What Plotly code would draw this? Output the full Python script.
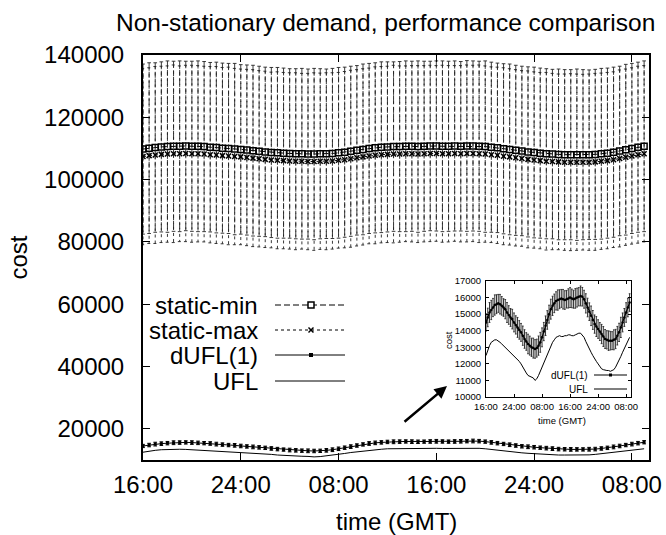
import plotly.graph_objects as go

# ---------------- data ----------------
hours = [i * 0.5 for i in range(83)]          # hours after 16:00 GMT
tick_hours = [0, 8, 16, 24, 32, 40]
tick_labels = ["16:00", "24:00", "08:00", "16:00", "24:00", "08:00"]
cost_ticks = [20000, 40000, 60000, 80000, 100000, 120000, 140000]
inset_ticks = [10000, 11000, 12000, 13000, 14000, 15000, 16000, 17000]

static_min = [109800, 110100, 110300, 110500, 110600, 110700, 110700, 110800, 110700, 110700,
              110600, 110400, 110300, 110100, 110000, 109800, 109700, 109500, 109300, 109100,
              108900, 108700, 108600, 108500, 108400, 108300, 108300, 108200, 108200, 108300,
              108300, 108400, 108600, 108800, 109100, 109400, 109700, 110000, 110200, 110400,
              110500, 110600, 110600, 110700, 110700, 110600, 110700, 110800, 110800, 110700,
              110700, 110800, 110700, 110800, 110800, 110700, 110600, 110400, 110200, 109900,
              109700, 109400, 109200, 108900, 108700, 108500, 108300, 108200, 108100, 108000,
              108000, 108000, 108000, 108000, 108100, 108300, 108500, 108800, 109200, 109600,
              110000, 110400, 110700]
static_min_err = [27300, 27400, 27200, 27300, 27500, 27300, 27400, 27200, 27300, 27400,
                  27300, 27200, 27400, 27300, 27300, 27500, 27200, 27300, 27400, 27300,
                  27200, 27300, 27400, 27300, 27200, 27300, 27400, 27300, 27500, 27300,
                  27200, 27300, 27400, 27300, 27300, 27200, 27400, 27300, 27300, 27400,
                  27300, 27200, 27300, 27400, 27300, 27500, 27300, 27200, 27300, 27400,
                  27300, 27300, 27200, 27400, 27300, 27300, 27500, 27300, 27200, 27300,
                  27400, 27300, 27200, 27300, 27400, 27300, 27300, 27200, 27400, 27300,
                  27300, 27500, 27300, 27200, 27300, 27400, 27300, 27300, 27200, 27400,
                  27300, 27300, 27400]
static_max = [107400, 107700, 107900, 108100, 108200, 108300, 108300, 108400, 108300, 108300,
              108200, 108000, 107900, 107700, 107600, 107400, 107300, 107100, 106900, 106700,
              106500, 106300, 106200, 106100, 106000, 105900, 105900, 105800, 105800, 105900,
              105900, 106000, 106200, 106400, 106700, 107000, 107300, 107600, 107800, 108000,
              108100, 108200, 108200, 108300, 108300, 108200, 108300, 108400, 108400, 108300,
              108300, 108400, 108300, 108400, 108400, 108300, 108200, 108000, 107800, 107500,
              107300, 107000, 106800, 106500, 106300, 106100, 105900, 105800, 105700, 105600,
              105600, 105600, 105600, 105600, 105700, 105900, 106100, 106400, 106800, 107200,
              107600, 108000, 108300]
static_max_err = [28300, 28200, 28400, 28300, 28300, 28500, 28200, 28300, 28400, 28300,
                  28200, 28300, 28400, 28300, 28500, 28300, 28200, 28300, 28400, 28300,
                  28300, 28200, 28400, 28300, 28300, 28400, 28200, 28300, 28500, 28300,
                  28400, 28300, 28200, 28300, 28400, 28300, 28300, 28200, 28400, 28300,
                  28300, 28500, 28300, 28200, 28300, 28400, 28300, 28300, 28200, 28400,
                  28300, 28200, 28300, 28400, 28300, 28500, 28300, 28200, 28300, 28400,
                  28300, 28300, 28200, 28400, 28300, 28300, 28500, 28300, 28200, 28300,
                  28400, 28300, 28200, 28300, 28400, 28300, 28300, 28200, 28400, 28300,
                  28300, 28400, 28300]
dufl = [14500, 14800, 15100, 15250, 15400, 15550, 15600, 15650, 15600, 15500,
        15400, 15300, 15100, 14950, 14800, 14700, 14500, 14350, 14200, 14050,
        13900, 13700, 13500, 13350, 13200, 13100, 13000, 12950, 12900, 12950,
        13100, 13300, 13600, 13950, 14300, 14650, 15000, 15300, 15500, 15650,
        15800, 15850, 15900, 15950, 15900, 15850, 15900, 15950, 16000, 15950,
        15900, 15950, 16000, 16050, 16100, 16050, 15900, 15650, 15400, 15150,
        14900, 14650, 14400, 14250, 14100, 13950, 13800, 13650, 13500, 13450,
        13400, 13400, 13400, 13450, 13500, 13700, 13900, 14200, 14500, 14800,
        15100, 15400, 15700]
dufl_err = [520, 560, 600, 580, 550, 610, 570, 540, 590, 560,
            530, 580, 600, 560, 540, 590, 570, 550, 600, 560,
            540, 580, 560, 530, 590, 570, 550, 600, 560, 540,
            580, 600, 570, 550, 590, 560, 540, 600, 580, 560,
            550, 610, 570, 540, 590, 560, 530, 580, 600, 560,
            540, 590, 570, 550, 600, 560, 540, 580, 560, 530,
            590, 570, 550, 600, 560, 540, 580, 600, 570, 550,
            590, 560, 540, 600, 580, 560, 550, 610, 570, 540,
            590, 560, 530]
ufl = [12500, 12850, 13100, 13300, 13400, 13450, 13450, 13400, 13300, 13200,
       13100, 13000, 12900, 12800, 12700, 12600, 12500, 12400, 12300, 12150,
       12000, 11800, 11600, 11450, 11300, 11250, 11200, 11150, 11000, 11100,
       11300, 11550, 11800, 12100, 12400, 12650, 12900, 13100, 13300, 13450,
       13600, 13650, 13700, 13650, 13650, 13700, 13700, 13750, 13750, 13700,
       13700, 13750, 13800, 13850, 13850, 13750, 13600, 13350, 13100, 12900,
       12700, 12500, 12300, 12150, 12000, 11850, 11700, 11650, 11600, 11600,
       11600, 11550, 11600, 11650, 11800, 12000, 12200, 12450, 12700, 12950,
       13200, 13400, 13600]

# ---------------- helpers ----------------
FONT = "Liberation Sans, Arial, Helvetica, sans-serif"
W, H = 666, 535
L, R, T, B = 143, 649, 55, 460


def px(x):
    return (x - L) / (R - L)


def py(y):
    return (B - y) / (B - T)


def errbar_path(xs, ys, errs, cap):
    ex, ey = [], []
    for x, y, e in zip(xs, ys, errs):
        top, bot = y + e, y - e
        ex += [x - cap, x + cap, None, x, x, None, x - cap, x + cap, None]
        ey += [top, top, None, top, bot, None, bot, bot, None]
    return ex, ey


fig = go.Figure()

# main plot: static-min
ex, ey = errbar_path(hours, static_min, static_min_err, 0.15)
fig.add_trace(go.Scatter(x=ex, y=ey, mode="lines", line=dict(color="#222", width=0.9, dash="6px,3px"),
                         showlegend=False, hoverinfo="skip"))
fig.add_trace(go.Scatter(x=hours, y=static_min, mode="lines+markers", name="static-min",
                         line=dict(color="black", width=1, dash="6px,3px"),
                         marker=dict(symbol="square-open", size=6, color="black", line=dict(width=1.5)),
                         showlegend=False))
# static-max
ex, ey = errbar_path(hours, static_max, static_max_err, 0.15)
fig.add_trace(go.Scatter(x=ex, y=ey, mode="lines", line=dict(color="#222", width=0.9, dash="3px,3px"),
                         showlegend=False, hoverinfo="skip"))
fig.add_trace(go.Scatter(x=hours, y=static_max, mode="lines+markers", name="static-max",
                         line=dict(color="black", width=1, dash="3px,3px"),
                         marker=dict(symbol="x-thin", size=5, color="black", line=dict(width=1.5, color="black")),
                         showlegend=False))
# dUFL(1)
ex, ey = errbar_path(hours, dufl, dufl_err, 0.15)
fig.add_trace(go.Scatter(x=ex, y=ey, mode="lines", line=dict(color="black", width=1),
                         showlegend=False, hoverinfo="skip"))
fig.add_trace(go.Scatter(x=hours, y=dufl, mode="lines+markers", name="dUFL(1)",
                         line=dict(color="black", width=1),
                         marker=dict(symbol="square", size=3, color="black"), showlegend=False))
# UFL
fig.add_trace(go.Scatter(x=hours, y=ufl, mode="lines", name="UFL",
                         line=dict(color="black", width=1), showlegend=False))

# inset
ex, ey = errbar_path(hours, dufl, dufl_err, 0.25)
fig.add_trace(go.Scatter(x=ex, y=ey, mode="lines", line=dict(color="#333", width=1),
                         xaxis="x2", yaxis="y2", showlegend=False, hoverinfo="skip"))
fig.add_trace(go.Scatter(x=hours, y=dufl, mode="lines+markers", name="dUFL(1)",
                         line=dict(color="black", width=1.2),
                         marker=dict(symbol="circle", size=2.5, color="black"),
                         xaxis="x2", yaxis="y2", showlegend=False))
fig.add_trace(go.Scatter(x=hours, y=ufl, mode="lines", name="UFL",
                         line=dict(color="black", width=1),
                         xaxis="x2", yaxis="y2", showlegend=False))

axis_common = dict(showline=True, linecolor="black", mirror="ticks", ticks="inside",
                   tickcolor="black", showgrid=False, zeroline=False, automargin=False)

fig.update_layout(
    width=W, height=H,
    margin=dict(l=L, r=W - R, t=T, b=H - B, autoexpand=False),
    paper_bgcolor="white", plot_bgcolor="white",
    font=dict(family=FONT, color="black"),
    title=dict(text="Non-stationary demand, performance comparison", x=116 / W, xref="container",
               xanchor="left", y=1 - 22 / H, yref="container", yanchor="middle",
               font=dict(size=24.5, family=FONT, color="black"), automargin=False),
    xaxis=dict(domain=[0, 1], range=[0, 41.4], tickvals=tick_hours, ticktext=tick_labels,
               ticklen=7, tickwidth=1, linewidth=2, tickfont=dict(size=24),
               ticklabelstandoff=2, **axis_common),
    yaxis=dict(domain=[0, 1], range=[10000, 140000], tickvals=cost_ticks,
               ticktext=[str(v) for v in cost_ticks],
               ticklen=7, tickwidth=1, linewidth=2, tickfont=dict(size=24),
               ticklabelstandoff=12, **axis_common),
    xaxis2=dict(domain=[px(486), px(631)], anchor="y2", range=[0, 41.4], tickvals=tick_hours,
                ticktext=tick_labels, ticklen=3, tickwidth=1, linewidth=1,
                tickfont=dict(size=9.5), ticklabelstandoff=1, **axis_common),
    yaxis2=dict(domain=[py(397), py(281)], anchor="x2", range=[10000, 17000], tickvals=inset_ticks,
                ticktext=[str(v) for v in inset_ticks], ticklen=3, tickwidth=1, linewidth=1,
                tickfont=dict(size=9.5), ticklabelstandoff=2, **axis_common),
)

ann = []
# axis titles
ann.append(dict(text="cost", x=px(18), y=0.5, xref="paper", yref="paper", textangle=-90,
                showarrow=False, font=dict(size=24), xanchor="center", yanchor="middle"))
ann.append(dict(text="time (GMT)", x=0.5, y=py(521), xref="paper", yref="paper",
                showarrow=False, font=dict(size=24), xanchor="center", yanchor="middle"))
# inset titles
ann.append(dict(text="cost", x=px(448), y=py(340), xref="paper", yref="paper", textangle=-90,
                showarrow=False, font=dict(size=9.5), xanchor="center", yanchor="middle"))
ann.append(dict(text="time (GMT)", x=px(562), y=py(420), xref="paper", yref="paper",
                showarrow=False, font=dict(size=9.5), xanchor="center", yanchor="middle"))

# main legend (text left of sample, gnuplot style)
legend_names = ["static-min", "static-max", "dUFL(1)", "UFL"]
legend_y = [305, 330, 355, 381]
legend_dash = ["6px,3px", "3px,3px", "solid", "solid"]
shapes = []
for name, yy, dash in zip(legend_names, legend_y, legend_dash):
    ann.append(dict(text=name, x=px(260), y=py(yy), xref="paper", yref="paper", showarrow=False,
                    font=dict(size=24), xanchor="right", yanchor="middle"))
    shapes.append(dict(type="line", xref="paper", yref="paper", x0=px(275), x1=px(345),
                       y0=py(yy), y1=py(yy), line=dict(color="black", width=1, dash=dash)))
mx = 311
# square-open marker sample
shapes.append(dict(type="rect", xref="paper", yref="paper", x0=px(mx - 3), x1=px(mx + 3),
                   y0=py(305 + 3), y1=py(305 - 3), line=dict(color="black", width=1.5), fillcolor="white"))
# x marker sample
shapes.append(dict(type="line", xref="paper", yref="paper", x0=px(mx - 2.5), x1=px(mx + 2.5),
                   y0=py(330 + 2.5), y1=py(330 - 2.5), line=dict(color="black", width=1.5)))
shapes.append(dict(type="line", xref="paper", yref="paper", x0=px(mx - 2.5), x1=px(mx + 2.5),
                   y0=py(330 - 2.5), y1=py(330 + 2.5), line=dict(color="black", width=1.5)))
# filled square sample for dUFL(1)
shapes.append(dict(type="rect", xref="paper", yref="paper", x0=px(mx - 2), x1=px(mx + 2),
                   y0=py(355 + 2), y1=py(355 - 2), line=dict(color="black", width=0), fillcolor="black"))
# inset legend
for name, yy in zip(["dUFL(1)", "UFL"], [375, 389]):
    ann.append(dict(text=name, x=px(590), y=py(yy), xref="paper", yref="paper", showarrow=False,
                    font=dict(size=10), xanchor="right", yanchor="middle"))
    shapes.append(dict(type="line", xref="paper", yref="paper", x0=px(594), x1=px(627),
                       y0=py(yy), y1=py(yy), line=dict(color="black", width=1.2)))
shapes.append(dict(type="rect", xref="paper", yref="paper", x0=px(609), x1=px(612),
                   y0=py(376.5), y1=py(373.5), line=dict(color="black", width=0), fillcolor="black"))

# arrow pointing to the inset
ann.append(dict(text="", x=px(447), y=py(386), xref="paper", yref="paper", showarrow=True,
                ax=-44, ay=37, arrowhead=2, arrowsize=1, arrowwidth=2.5, arrowcolor="black",
                standoff=0, startstandoff=0))

fig.update_layout(annotations=ann, shapes=shapes)
fig.write_html("out.html", config={"displayModeBar": False},
               post_script="document.body.style.margin='0';document.body.style.overflow='hidden';")
